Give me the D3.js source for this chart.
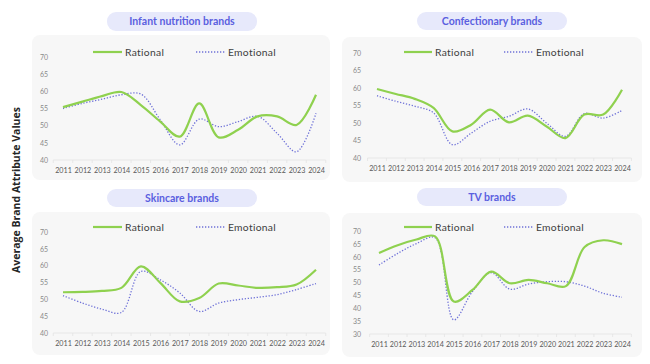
<!DOCTYPE html>
<html><head><meta charset="utf-8">
<script src="https://cdn.jsdelivr.net/npm/d3@7"></script>
<style>
body{margin:0;background:#fff;}
svg{display:block;font-family:"Lato","Open Sans",sans-serif;}
</style></head>
<body>
<svg id="c" width="650" height="364"></svg>
<script>
const years = [2011,2012,2013,2014,2015,2016,2017,2018,2019,2020,2021,2022,2023,2024];
const titles = ["Infant nutrition brands","Confectionary brands","Skincare brands","TV brands"];
const seriesNames = ["Rational","Emotional"];
const infantRational  = [55.4,57.0,58.6,59.8,56.0,51.2,46.8,56.5,46.6,48.8,52.7,52.7,50.2,59.0];
const infantEmotional = [55.0,56.5,57.7,59.0,59.2,51.7,44.4,51.9,49.7,51.2,52.7,47.8,42.4,53.6];
const confRational    = [59.7,58.3,56.9,54.3,47.6,49.5,53.8,50.2,52.1,49.0,45.7,52.4,52.4,59.5];
const confEmotional   = [57.8,56.2,54.8,52.9,43.8,47.1,50.5,51.9,54.0,50.0,46.2,52.7,51.4,53.6];
const skinRational    = [52.1,52.2,52.5,53.4,59.8,54.9,49.4,50.4,54.7,54.1,53.4,53.6,54.4,58.8];
const skinEmotional   = [51.1,48.9,47.1,46.1,58.3,55.8,51.9,46.4,48.9,49.9,50.6,51.4,52.9,54.7];
const tvRational      = [61.5,64.5,66.7,67.9,42.6,47.1,54.2,49.7,51.0,49.7,48.6,63.8,66.4,64.9];
const tvEmotional     = [56.8,61.3,65.1,67.4,35.5,46.5,53.8,47.4,49.4,50.3,50.3,48.6,45.8,44.3];
const yTicksA = [40,45,50,55,60,65,70];
const yTicksB = [30,35,40,45,50,55,60,65,70];
const yAxisTitle = "Average Brand Attribute Values";

const panelData = [
  [infantRational, infantEmotional, yTicksA],
  [confRational, confEmotional, yTicksA],
  [skinRational, skinEmotional, yTicksA],
  [tvRational, tvEmotional, yTicksB]
];
const layout = [
  {card:[32,35,298,145], pill:[107,12,150,19], y:[160,57], x:[63,316], ly:52, l1:[93,122], l2:[196,225], yax:48},
  {card:[342,37,300,145], pill:[417,12,150,18], y:[158,53], x:[377,622], ly:52, l1:[404,432], l2:[504,533], yax:361},
  {card:[32,212,298,143], pill:[107,189,150,18], y:[333,232], x:[63,316], ly:227, l1:[93,122], l2:[196,225], yax:48},
  {card:[342,213,300,144], pill:[417,188,150,18], y:[334,231], x:[379,622], ly:227, l1:[404,432], l2:[504,533], yax:361}
];
const green = "#8fd14f", blue = "#6f72d8";
const svg = d3.select("#c");

svg.append("text").attr("transform","translate(20,190) rotate(-90)")
  .attr("text-anchor","middle").attr("font-size",10.5).attr("font-weight","bold")
  .attr("fill","#262626").attr("font-family","Open Sans, sans-serif").text(yAxisTitle);

panelData.forEach((pd,i)=>{
  const L = layout[i];
  const [rat, emo, ticks] = pd;
  const g = svg.append("g");
  g.append("rect").attr("x",L.card[0]).attr("y",L.card[1]).attr("width",L.card[2]).attr("height",L.card[3])
    .attr("rx",8).attr("fill","#f7f7f7");
  g.append("rect").attr("x",L.pill[0]).attr("y",L.pill[1]).attr("width",L.pill[2]).attr("height",L.pill[3])
    .attr("rx",9).attr("fill","#e7e9fb");
  g.append("text").attr("x",L.pill[0]+L.pill[2]/2).attr("y",L.pill[1]+L.pill[3]/2+3.7)
    .attr("text-anchor","middle").attr("font-size",10.5).attr("font-weight","bold").attr("fill","#5a5fe0")
    .text(titles[i]);

  const x = d3.scalePoint().domain(years).range(L.x);
  const y = d3.scaleLinear().domain([d3.min(ticks), d3.max(ticks)]).range(L.y);
  const step = x.step();

  const ya = g.append("g").attr("transform",`translate(${L.yax},0)`)
    .call(d3.axisLeft(y).tickValues(ticks).tickSize(0).tickPadding(0));
  ya.select(".domain").remove();
  ya.selectAll("text").attr("font-size",7).attr("fill","#8a8a8a").attr("font-family","Lato, sans-serif");

  const xa = g.append("g").attr("transform",`translate(0,${y(d3.min(ticks))})`)
    .call(d3.axisBottom(x).tickSize(0).tickPadding(8));
  xa.select(".domain").remove();
  xa.selectAll("text").attr("font-size",7.2).attr("fill","#595959").attr("font-family","Lato, sans-serif");
  const y0 = y(d3.min(ticks));
  g.append("line").attr("x1",L.x[0]-step/2).attr("x2",L.x[1]+step/2).attr("y1",y0).attr("y2",y0)
    .attr("stroke","#e3e3e3").attr("stroke-width",0.8);
  d3.range(years.length+1).forEach(k=>{
    const xx = L.x[0]-step/2 + k*step;
    g.append("line").attr("x1",xx).attr("x2",xx).attr("y1",y0).attr("y2",y0+3)
      .attr("stroke","#e3e3e3").attr("stroke-width",0.8);
  });

  const line = d3.line().x((d,j)=>x(years[j])).y(d=>y(d)).curve(d3.curveCatmullRom.alpha(0.5));
  g.append("path").attr("d",line(emo)).attr("fill","none").attr("stroke",blue)
    .attr("stroke-width",1.3).attr("stroke-dasharray","1.3,1.7");
  g.append("path").attr("d",line(rat)).attr("fill","none").attr("stroke",green)
    .attr("stroke-width",2.2);

  g.append("line").attr("x1",L.l1[0]).attr("x2",L.l1[1]).attr("y1",L.ly).attr("y2",L.ly)
    .attr("stroke",green).attr("stroke-width",2.2);
  g.append("text").attr("x",L.l1[1]+3).attr("y",L.ly+3.5).attr("font-size",10.3).attr("letter-spacing",0.3)
    .attr("fill","#404040").text(seriesNames[0]);
  g.append("line").attr("x1",L.l2[0]).attr("x2",L.l2[1]).attr("y1",L.ly).attr("y2",L.ly)
    .attr("stroke",blue).attr("stroke-width",1.3).attr("stroke-dasharray","1.3,1.7");
  g.append("text").attr("x",L.l2[1]+3).attr("y",L.ly+3.5).attr("font-size",10.3).attr("letter-spacing",0.3)
    .attr("fill","#404040").text(seriesNames[1]);
});
</script>
</body></html>
